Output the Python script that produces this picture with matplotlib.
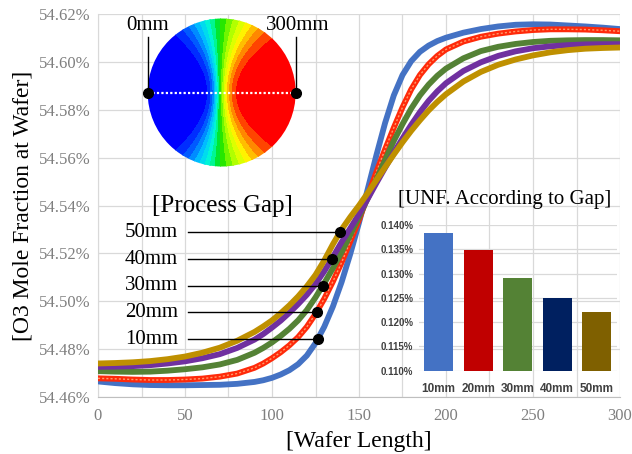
import numpy as np
import matplotlib
matplotlib.use('Agg')
import matplotlib.pyplot as plt
from matplotlib.colors import LinearSegmentedColormap
from matplotlib.patches import Circle
from matplotlib.ticker import FuncFormatter, MultipleLocator

plt.rcParams['font.family'] = ['Liberation Serif', 'DejaVu Serif']

# ---------------- data ----------------
wafer_x = [0, 10, 20, 30, 40, 50, 60, 70, 80, 90, 95, 100, 105, 110, 115, 120, 125, 130,
           135, 140, 145, 150, 155, 160, 165, 170, 175, 180, 185, 190, 195, 200, 210, 220,
           230, 240, 250, 260, 270, 280, 290, 300]

gap_10mm = [54.4665, 54.4658, 54.4653, 54.4650, 54.4649, 54.4649, 54.4650, 54.4651, 54.4655,
            54.4663, 54.4670, 54.4680, 54.4694, 54.4712, 54.4737, 54.4773, 54.4825, 54.4893,
            54.4978, 54.5080, 54.5198, 54.5328, 54.5468, 54.5610, 54.5745, 54.5860, 54.5945,
            54.6003, 54.6042, 54.6068, 54.6087, 54.6101, 54.6122, 54.6137, 54.6148, 54.6155,
            54.6157, 54.6156, 54.6152, 54.6148, 54.6143, 54.6137]
gap_20mm = [54.4678, 54.4676, 54.4673, 54.4671, 54.4671, 54.4673, 54.4677, 54.4685, 54.4698,
            54.4722, 54.4740, 54.4762, 54.4787, 54.4816, 54.4850, 54.4893, 54.4947, 54.5010,
            54.5082, 54.5162, 54.5250, 54.5340, 54.5440, 54.5540, 54.5635, 54.5725, 54.5810,
            54.5885, 54.5945, 54.5990, 54.6025, 54.6052, 54.6085, 54.6105, 54.6118, 54.6127,
            54.6133, 54.6136, 54.6136, 54.6135, 54.6132, 54.6128]
gap_30mm = [54.4708, 54.4706, 54.4705, 54.4706, 54.4710, 54.4716, 54.4724, 54.4736, 54.4755,
            54.4785, 54.4805, 54.4828, 54.4855, 54.4885, 54.4920, 54.4963, 54.5016, 54.5075,
            54.5138, 54.5205, 54.5277, 54.5352, 54.5430, 54.5510, 54.5590, 54.5670, 54.5740,
            54.5805, 54.5860, 54.5905, 54.5942, 54.5972, 54.6015, 54.6045, 54.6063, 54.6075,
            54.6083, 54.6088, 54.6090, 54.6091, 54.6091, 54.6090]
gap_40mm = [54.4726, 54.4727, 54.4729, 54.4733, 54.4740, 54.4749, 54.4762, 54.4779, 54.4805,
            54.4840, 54.4863, 54.4890, 54.4919, 54.4952, 54.4988, 54.5027, 54.5072, 54.5125,
            54.5185, 54.5247, 54.5305, 54.5364, 54.5428, 54.5494, 54.5558, 54.5620, 54.5680,
            54.5737, 54.5790, 54.5837, 54.5877, 54.5911, 54.5962, 54.5998, 54.6025, 54.6044,
            54.6057, 54.6065, 54.6070, 54.6073, 54.6074, 54.6074]
gap_50mm = [54.4740, 54.4742, 54.4745, 54.4750, 54.4758, 54.4769, 54.4785, 54.4806, 54.4835,
            54.4872, 54.4895, 54.4920, 54.4950, 54.4983, 54.5020, 54.5062, 54.5110, 54.5170,
            54.5238, 54.5300, 54.5352, 54.5400, 54.5452, 54.5506, 54.5560, 54.5613, 54.5664,
            54.5712, 54.5756, 54.5797, 54.5833, 54.5865, 54.5918, 54.5958, 54.5988, 54.6010,
            54.6027, 54.6040, 54.6049, 54.6055, 54.6058, 54.6060]

gap_labels = ['10mm', '20mm', '30mm', '40mm', '50mm']
marker_levels = [54.4842, 54.4955, 54.5064, 54.5176, 54.5289]
uniformity = [0.1384, 0.1349, 0.1291, 0.1249, 0.1221]

line_colors = ['#4472C4', '#FF2A0A', '#548235', '#7030A0', '#BF9000']
bar_colors = ['#4472C4', '#C00000', '#548235', '#002060', '#7F6000']

# ---------------- figure ----------------
fig = plt.figure(figsize=(6.32, 4.54), dpi=100)
ax = fig.add_axes([98 / 632, 1 - 397 / 454, 522 / 632, 383 / 454])

x = np.array(wafer_x, dtype=float)
series = [gap_10mm, gap_20mm, gap_30mm, gap_40mm, gap_50mm]
for i, (vals, col) in enumerate(zip(series, line_colors)):
    ax.plot(x, vals, color=col, lw=4.2, solid_capstyle='round',
            solid_joinstyle='round', zorder=3 + i)
    if i == 1:
        ax.plot(x, vals, color='#FF9A6A', lw=1.0, ls=(0, (1.5, 1.5)), zorder=3 + i)

ax.set_xlim(0, 300)
ax.set_ylim(54.46, 54.62)
ax.xaxis.set_major_locator(MultipleLocator(50))
ax.xaxis.set_minor_locator(MultipleLocator(25))
ax.yaxis.set_major_locator(MultipleLocator(0.02))
ax.yaxis.set_major_formatter(FuncFormatter(lambda v, p: f'{v:.2f}%'))
ax.grid(True, which='both', axis='x', color='#d9d9d9', lw=0.9, zorder=0)
ax.grid(True, which='major', axis='y', color='#d9d9d9', lw=0.9, zorder=0)
ax.set_axisbelow(True)
ax.tick_params(which='both', length=0, labelcolor='#7f7f7f', labelsize=12)
ax.tick_params(axis='x', pad=8)
ax.tick_params(axis='y', pad=5)
for s in ['top', 'right']:
    ax.spines[s].set_visible(False)
ax.spines['left'].set_color('#d9d9d9')
ax.spines['bottom'].set_color('#bfbfbf')
ax.set_xlabel('[Wafer Length]', fontsize=17, labelpad=5)
ax.set_ylabel('[O3 Mole Fraction at Wafer]', fontsize=17, labelpad=4)

# legend annotations with leader lines to dots on curves
ax.text(71.3, 54.540, '[Process Gap]', ha='center', va='center', fontsize=18, zorder=10)
for lab, lev, vals in zip(gap_labels, marker_levels, series):
    v = np.array(vals)
    sel = (x >= 100) & (x <= 180)
    xd = np.interp(lev, v[sel], x[sel])
    ax.plot([51.7, xd], [lev, lev], color='black', lw=1.0, zorder=9)
    ax.plot([xd], [lev], 'o', color='black', ms=7, zorder=10)
    ax.text(46, lev, lab, ha='right', va='center', fontsize=15, zorder=10)

# ---------------- wafer illustration ----------------
wax = fig.add_axes([120 / 632, 1 - 172 / 454, 210 / 632, 160 / 454])
wax.set_xlim(-1.374, 1.464)
wax.set_ylim(-1.074, 1.088)
wax.axis('off')
cmap = LinearSegmentedColormap.from_list(
    'wafer', ['#0000FF', '#0060FF', '#00C8FF', '#00FFD0', '#00E000', '#A0FF00',
              '#FFFF00', '#FF9000', '#FF0000'])
nlev = 19
band_colors = [cmap(i / (nlev - 2)) for i in range(nlev - 1)]
g = np.linspace(-1.02, 1.02, 600)
GX, GY = np.meshgrid(g, g)
W = 0.12 + 0.50 * GY ** 2
W = np.where(GX > -0.02, W * 1.3, W)
F = 0.5 * (1 + np.tanh((GX + 0.02) / W))
cs = wax.contourf(GX, GY, F, levels=np.linspace(0, 1.0001, nlev), colors=band_colors)
circ = Circle((0, 0), 1, transform=wax.transData)
cs.set_clip_path(circ)
wax.plot([-1, 1], [0, 0], ls=(0, (1, 1)), color='white', lw=1.6)
wax.plot([-1, -1], [0.75, 0], color='black', lw=1.0)
wax.plot([1, 1], [0.75, 0], color='black', lw=1.0)
wax.plot([-1, 1], [0, 0], 'o', color='black', ms=7, ls='none', clip_on=False)
wax.text(-1, 0.91, '0mm', ha='center', va='center', fontsize=15)
wax.text(1.03, 0.91, '300mm', ha='center', va='center', fontsize=15)

# ---------------- inset bar chart ----------------
iax = fig.add_axes([418.7 / 632, 1 - 370.7 / 454, 198 / 632, 145.7 / 454])
iax.patch.set_alpha(0)
pos = np.arange(len(gap_labels))
iax.bar(pos, uniformity, width=0.73, color=bar_colors, zorder=3)
iax.set_xlim(-0.5, len(gap_labels) - 0.5)
iax.set_ylim(0.110, 0.140)
iax.set_yticks(np.arange(0.110, 0.1401, 0.005))
iax.yaxis.set_major_formatter(FuncFormatter(lambda v, p: f'{v:.3f}%'))
iax.set_xticks(pos)
iax.set_xticklabels(gap_labels)
iax.grid(True, axis='y', color='#d9d9d9', lw=0.9, zorder=0)
for s in iax.spines.values():
    s.set_visible(False)
iax.tick_params(length=0, labelcolor='#404040')
iax.tick_params(axis='y', pad=4)
iax.tick_params(axis='x', pad=9)
for lbl in iax.get_yticklabels():
    lbl.set_fontfamily(['Liberation Sans', 'DejaVu Sans'])
    lbl.set_fontweight('bold')
    lbl.set_fontsize(7)
for lbl in iax.get_xticklabels():
    lbl.set_fontfamily(['Liberation Sans', 'DejaVu Sans'])
    lbl.set_fontweight('bold')
    lbl.set_fontsize(8.5)
iax.text(0.436, 1.172, '[UNF. According to Gap]', transform=iax.transAxes,
         ha='center', va='center', fontsize=15)

fig.savefig('out.png', dpi=100)
